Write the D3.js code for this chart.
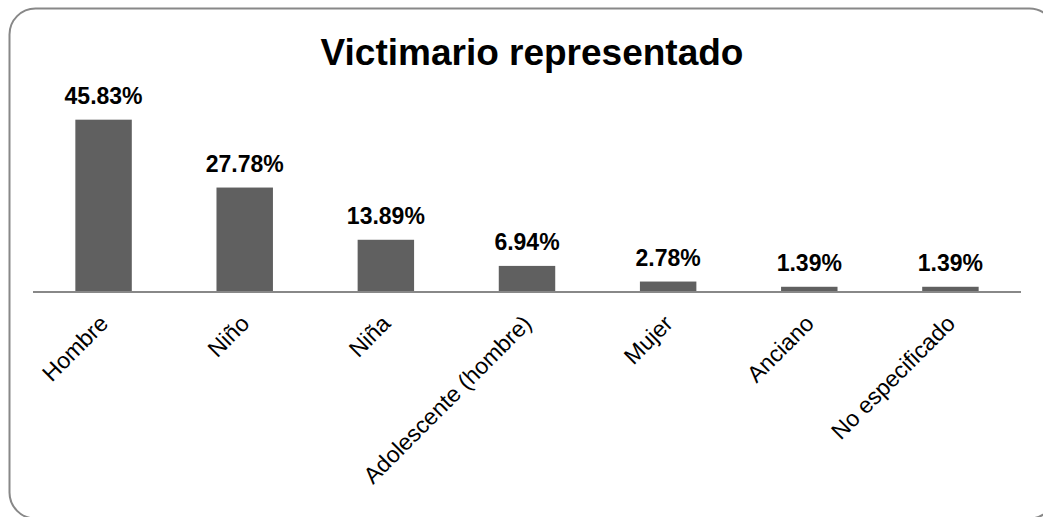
<!DOCTYPE html>
<html>
<head>
<meta charset="utf-8">
<script src="https://cdn.jsdelivr.net/npm/d3@7"></script>
<style>
  body { margin: 0; background: #fff; }
  svg { display: block; font-family: "Liberation Sans", Arial, sans-serif; }
</style>
</head>
<body>
<svg width="1043" height="517"></svg>
<script>
var categories = ["Hombre", "Niño", "Niña", "Adolescente (hombre)", "Mujer", "Anciano", "No especificado"];
var values = [45.83, 27.78, 13.89, 6.94, 2.78, 1.39, 1.39];
var title = "Victimario representado";

var svg = d3.select("svg");

// outer frame
svg.append("rect")
    .attr("x", 9.5).attr("y", 8.5)
    .attr("width", 1046).attr("height", 510)
    .attr("rx", 26).attr("ry", 26)
    .attr("fill", "#fff")
    .attr("stroke", "#888")
    .attr("stroke-width", 2);

var x = d3.scaleBand()
    .domain(categories)
    .range([33, 1021])
    .paddingInner(0.6)
    .paddingOuter(0.3);

var y = d3.scaleLinear()
    .domain([0, 50])
    .range([292, 104]);

svg.append("text")
    .attr("x", 532)
    .attr("y", 65)
    .attr("text-anchor", "middle")
    .attr("font-size", 37)
    .attr("font-weight", "bold")
    .attr("fill", "#000")
    .text(title);

var data = categories.map(function(c, i) { return {name: c, value: values[i]}; });

svg.append("g")
    .selectAll("rect")
    .data(data)
    .enter().append("rect")
      .attr("x", function(d) { return x(d.name); })
      .attr("y", function(d) { return y(d.value); })
      .attr("width", x.bandwidth())
      .attr("height", function(d) { return y(0) - y(d.value); })
      .attr("fill", "#606060");

svg.append("g")
    .selectAll("text")
    .data(data)
    .enter().append("text")
      .attr("x", function(d) { return x(d.name) + x.bandwidth() / 2; })
      .attr("y", function(d) { return y(d.value) - 16; })
      .attr("text-anchor", "middle")
      .attr("font-size", 23)
      .attr("font-weight", "bold")
      .attr("fill", "#000")
      .text(function(d) { return d.value.toFixed(2) + "%"; });

// x axis
var xAxis = svg.append("g")
    .attr("transform", "translate(0," + y(0) + ")")
    .call(d3.axisBottom(x).tickSize(0).tickPadding(0));

xAxis.select(".domain")
    .attr("d", "M33,0H1021")
    .attr("stroke", "#888")
    .attr("stroke-width", 2);

xAxis.selectAll(".tick text")
    .attr("font-family", "Liberation Sans, Arial, sans-serif")
    .attr("font-size", 23)
    .attr("fill", "#000")
    .attr("text-anchor", "end")
    .attr("dy", 0)
    .attr("transform", "translate(6,33) rotate(-45)");
</script>
</body>
</html>
